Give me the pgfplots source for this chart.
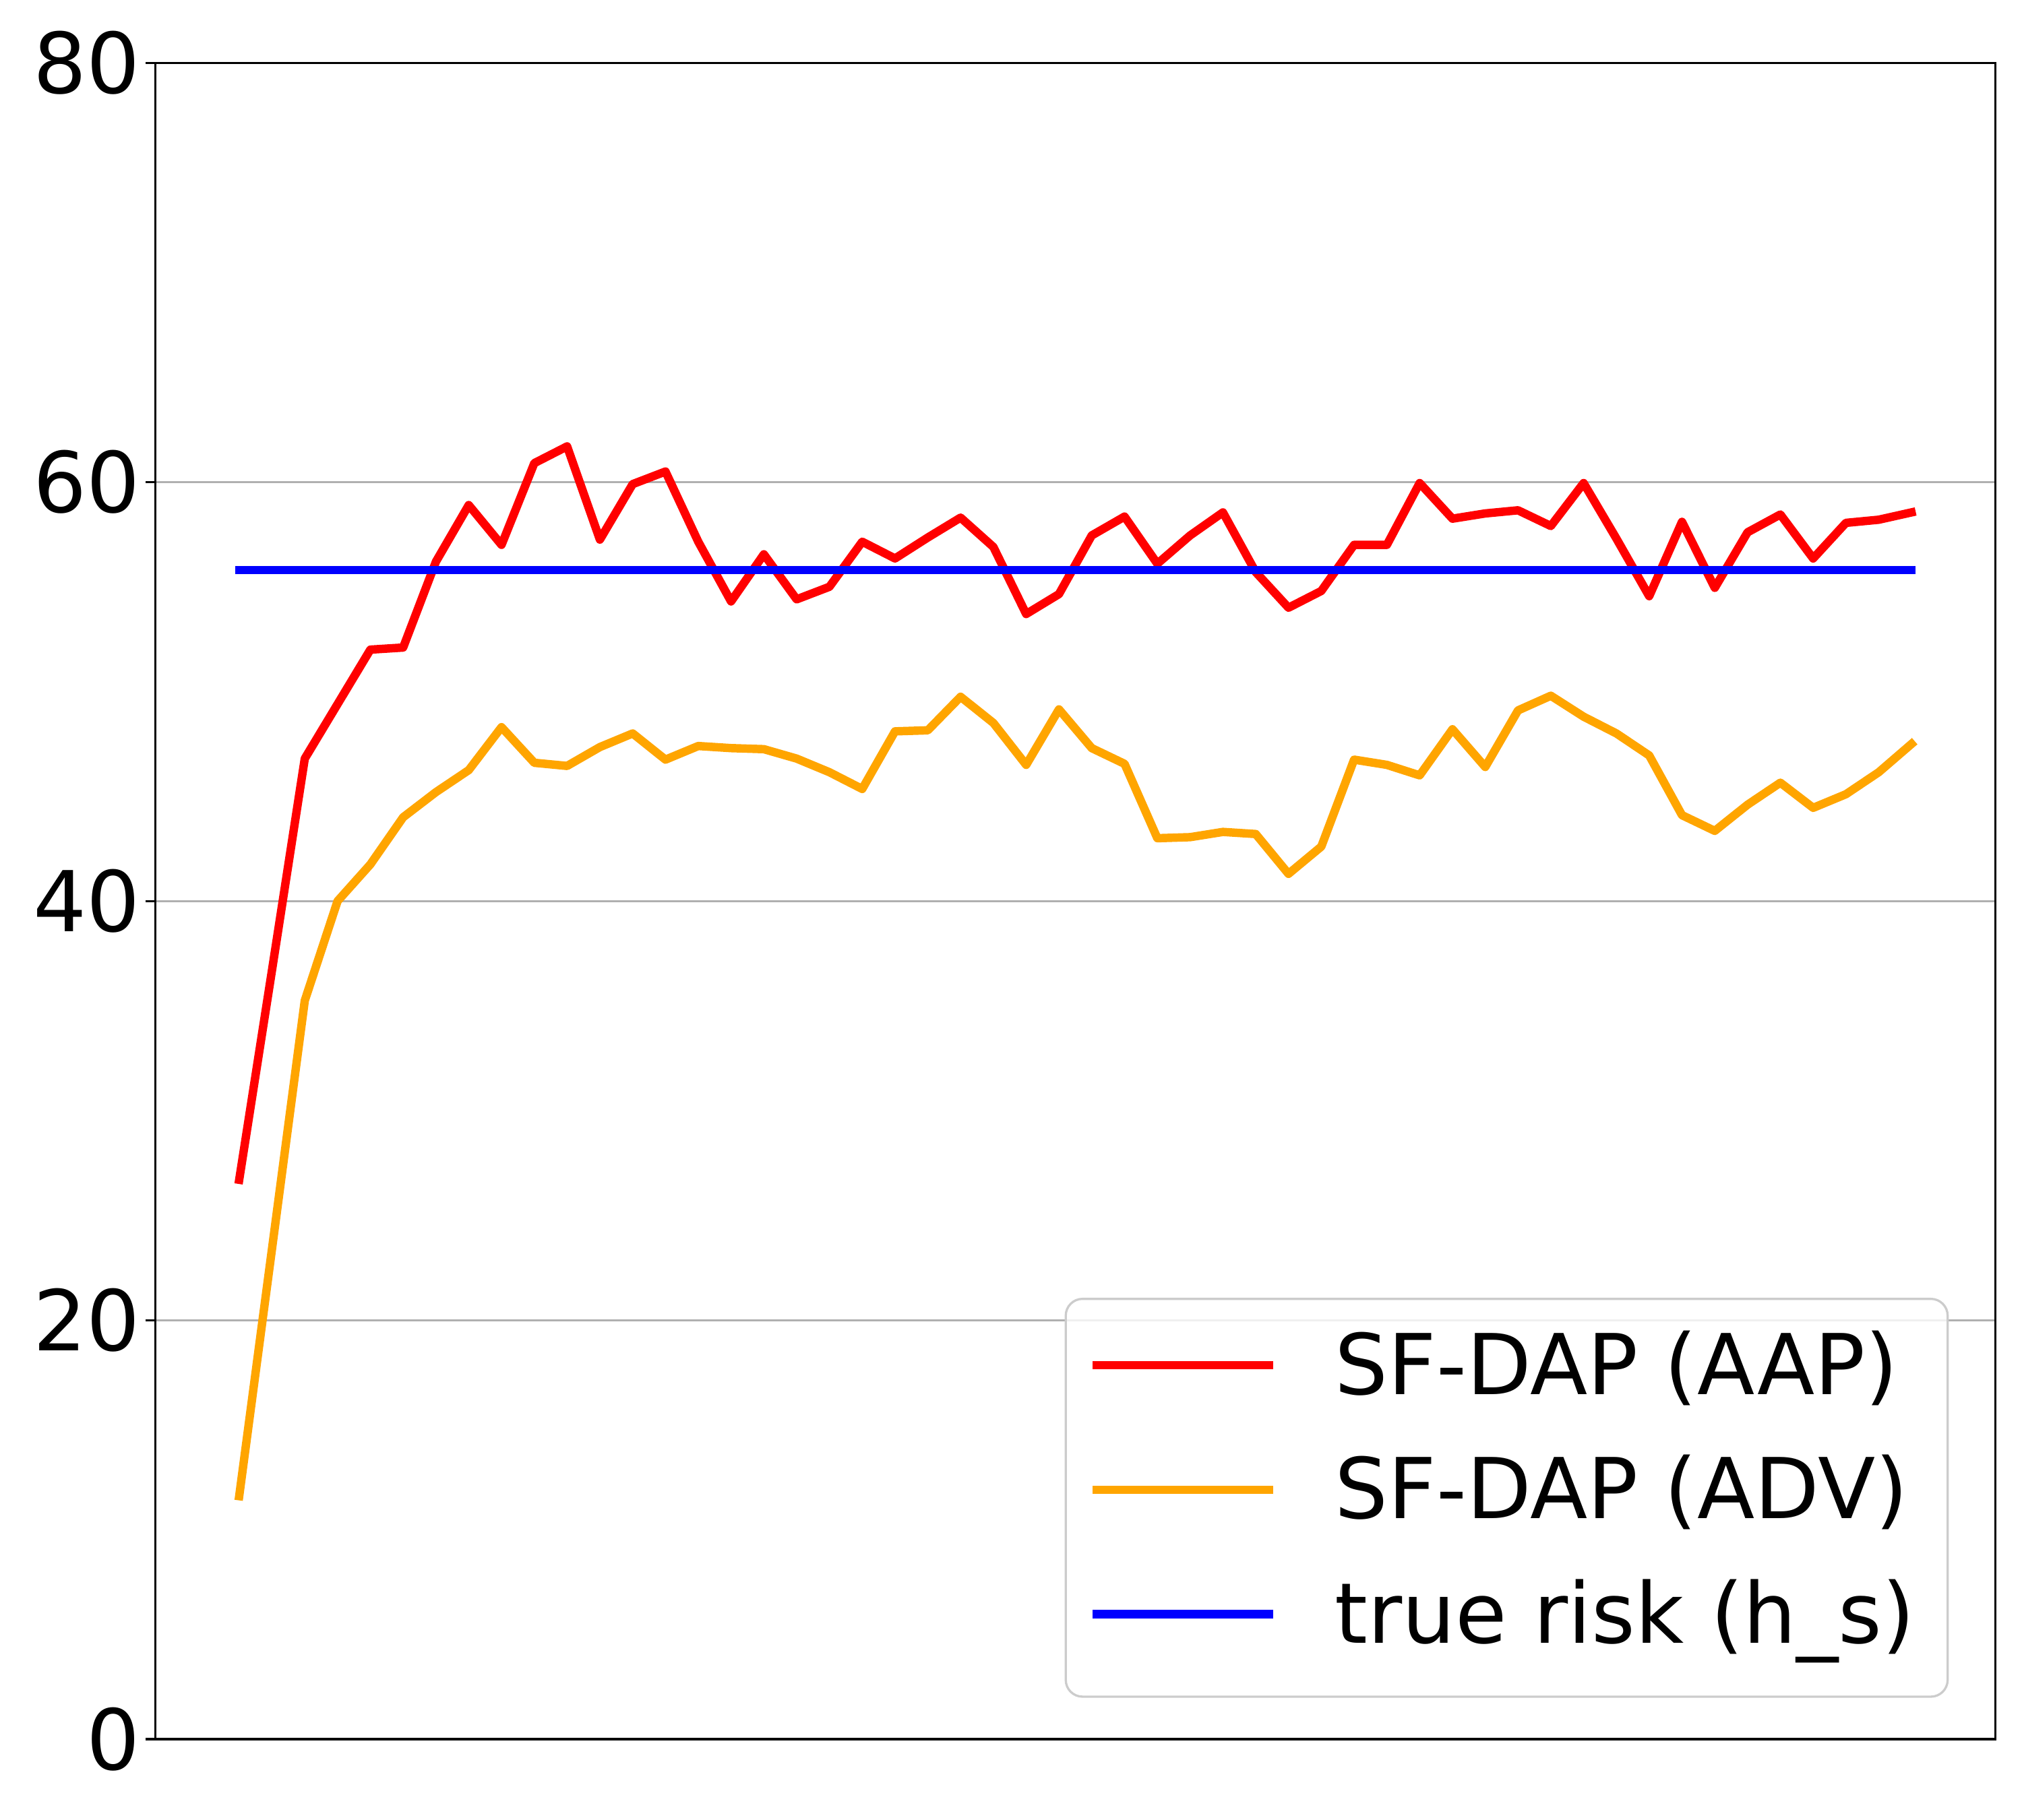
\documentclass[border=0pt]{standalone}
\usepackage{fontspec}
\setmainfont{DejaVu Sans}
\usepackage{pgfplots}
\pgfplotsset{compat=1.18}
\definecolor{mplred}{HTML}{FF0000}
\definecolor{mplorange}{HTML}{FFA500}
\definecolor{mplblue}{HTML}{0000FF}
\definecolor{gridgray}{HTML}{B0B0B0}
\definecolor{legendedge}{HTML}{CCCCCC}
\pgfplotstableread{
x aap adv
0 26.7 11.6
1 36.7 23.4
2 46.8 35.25
3 49.4 40.0
4 52.0 41.75
5 52.1 44.0
6 56.2 45.2
7 58.9 46.25
8 57.0 48.3
9 60.9 46.6
10 61.7 46.45
11 57.25 47.35
12 59.9 48.0
13 60.5 46.75
14 57.15 47.4
15 54.3 47.3
16 56.55 47.25
17 54.4 46.8
18 55.0 46.15
19 57.15 45.35
20 56.35 48.1
21 57.35 48.15
22 58.3 49.75
23 56.9 48.5
24 53.7 46.5
25 54.65 49.15
26 57.45 47.3
27 58.35 46.55
28 56.1 43.0
29 57.45 43.05
30 58.55 43.3
31 55.7 43.2
32 54.0 41.3
33 54.8 42.6
34 57.0 46.75
35 57.0 46.5
36 59.95 46.0
37 58.25 48.2
38 58.5 46.4
39 58.65 49.1
40 57.9 49.8
41 59.95 48.8
42 57.3 48.0
43 54.55 46.95
44 58.1 44.1
45 54.95 43.35
46 57.6 44.6
47 58.45 45.65
48 56.35 44.45
49 58.05 45.1
50 58.2 46.15
51 58.55 47.5
}\datatable
\begin{document}
\begin{tikzpicture}
\useasboundingbox (-55.6pt,-28.7pt) rectangle (667pt,621.7pt);
\begin{axis}[
  at={(0pt,0pt)}, anchor=south west,
  scale only axis, width=657.4pt, height=599.2pt,
  xmin=-2.55, xmax=53.55, ymin=0, ymax=80,
  xtick=\empty,
  ytick={0,20,40,60,80},
  ymajorgrids,
  grid style={color=gridgray, line width=0.8pt},
  axis line style={line width=0.8pt},
  tick style={black, line width=0.8pt},
  major tick length=3.6pt,
  tick align=outside,
  ytick pos=left,
  /pgf/number format/assume math mode=true,
  yticklabel style={font=\fontsize{30}{36}\selectfont, inner sep=0pt, xshift=-1.8pt},
  every axis plot/.append style={line width=3pt, line cap=rect, line join=round},
  legend cell align=left,
  legend image code/.code={\draw[#1] (0pt,2.9pt) -- (61.6pt,2.9pt);},
  legend style={at={(0.9748,0.0247)}, anchor=south east,
    draw=legendedge, line width=0.8pt, rounded corners=6pt,
    fill=white, fill opacity=0.8, text opacity=1,
    font=\fontsize{30}{36}\selectfont,
    inner xsep=9.6pt, inner ysep=12.1pt, row sep=15.5pt,
    nodes={inner sep=0pt, text height=22pt, text depth=7pt},
    /tikz/every odd column/.append style={column sep=22.0pt}},
]
\addplot[color=mplred] table[x=x, y=aap] {\datatable};
\addlegendentry{SF-DAP (AAP)}
\addplot[color=mplorange] table[x=x, y=adv] {\datatable};
\addlegendentry{SF-DAP (ADV)}
\addplot[color=mplblue] coordinates {(0,55.8) (51,55.8)};
\addlegendentry{true risk (h\_s)\hspace*{2pt}}
\end{axis}
\end{tikzpicture}
\end{document}
